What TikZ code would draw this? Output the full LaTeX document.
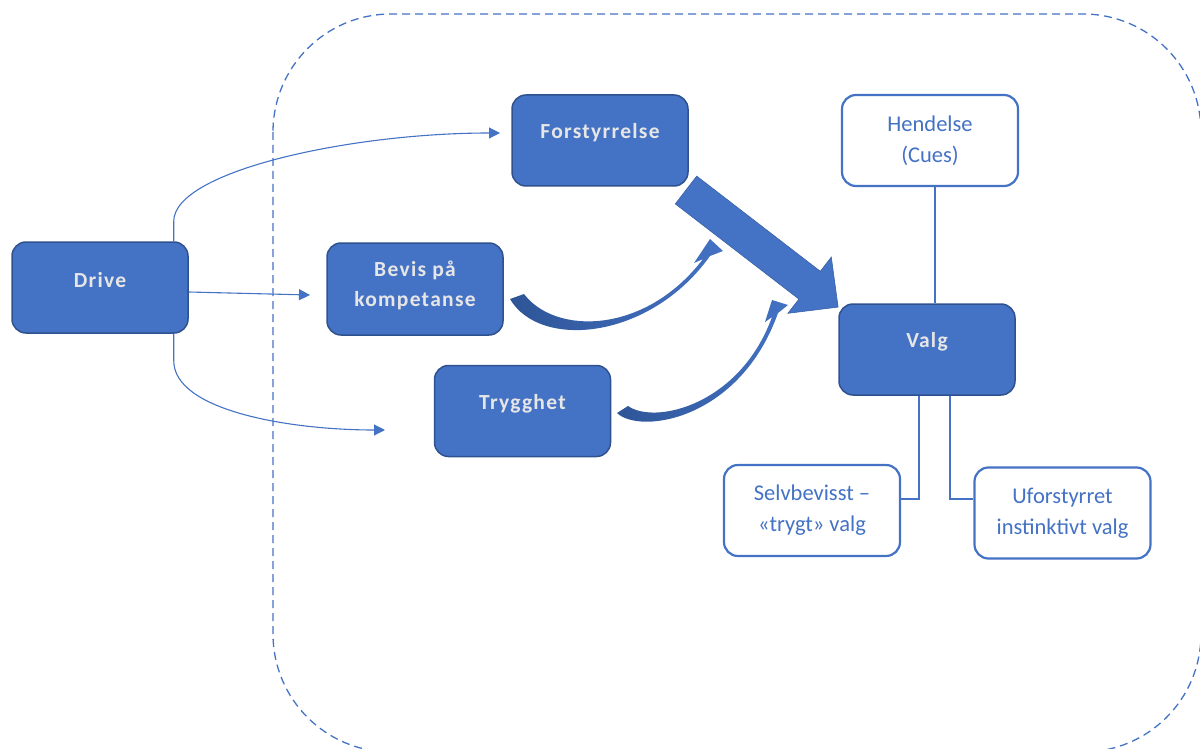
\documentclass[tikz,border=0pt]{standalone}
\usepackage{fontspec}
\setmainfont{Carlito}
\newfontfamily\boxfont[LetterSpace=6]{Carlito}
\usetikzlibrary{arrows.meta,calc}
\definecolor{boxblue}{HTML}{4472C4}
\definecolor{boxedge}{HTML}{2F528F}
\definecolor{txtgray}{HTML}{E7E6E6}
\definecolor{darkblue}{HTML}{2E5597}
\tikzset{
  fillbox/.style={draw=boxedge, fill=boxblue, line width=1.5pt, rounded corners=14pt,
    minimum width=176pt, minimum height=91pt, inner sep=0pt},
  filltext/.style={text=txtgray, align=center, inner sep=0pt,
    font=\boxfont\bfseries\fontsize{21.5pt}{30pt}\selectfont},
  whitebox/.style={draw=boxblue, fill=white, line width=2.2pt, rounded corners=14pt,
    minimum width=176pt, minimum height=91pt, inner sep=0pt, align=center, text=boxblue,
    font=\fontsize{22.5pt}{31pt}\selectfont},
  thinarrow/.style={draw=boxblue, line width=1.1pt, -{Triangle[length=11pt,width=11pt]}},
  treeline/.style={draw=boxblue, line width=2.2pt},
  border/.style={draw=boxblue, line width=1.3pt, dash pattern=on 8pt off 5pt, rounded corners=118pt},
  curvedarrow/.style={left color=darkblue, right color=boxblue, draw=none},
  blockarrow/.style={fill=boxblue, draw=boxblue!85!black, line width=0.6pt},
}
\begin{document}
\begin{tikzpicture}[x=1pt,y=-1pt]
\useasboundingbox (0,0) rectangle (1200,749);
\clip (0,0) rectangle (1200,749);

% dashed region
\draw[border] (273,14) rectangle (1201,752);

% boxes
\node[fillbox] (drive) at (100,287.5) {};
\node[filltext] (drive-t) at (100,280) {Drive};
\node[fillbox] (forst) at (600,140.5) {};
\node[filltext] (forst-t) at (600,133) {Forstyrrelse};
\node[fillbox, minimum height=92pt] (bevis) at (415,289) {};
\node[filltext] (bevis-t) at (415,285) {Bevis på\\kompetanse};
\node[fillbox] (trygg) at (522.5,411) {};
\node[filltext] (trygg-t) at (522.5,404) {Trygghet};
\node[fillbox] (valg) at (927,349.5) {};
\node[filltext] (valg-t) at (927,342) {Valg};

\node[whitebox] (hend) at (930,140.5) {Hendelse\\(Cues)};
\node[whitebox] (selv) at (812,510.5) {Selvbevisst –\\«trygt» valg};
\node[whitebox] (ufor) at (1062.5,513) {Uforstyrret\\instinktivt valg};

% free ends of the Drive arrows
\coordinate (endF) at (500,133);
\coordinate (endB) at (310,295);
\coordinate (endT) at (385,430);

% arrows from Drive
\draw[thinarrow] ([xshift=-15pt]drive.north east) -- ++(0,-20)
  .. controls +(0,-50) and +(-150,0) .. (endF);
\draw[thinarrow] ([yshift=-4.5pt]drive.east) -- (endB);
\draw[thinarrow] ([xshift=-15pt]drive.south east) -- ++(0,27)
  .. controls +(0,50) and +(-95,0) .. (endT);

% tree connectors
\draw[treeline] ([xshift=5pt]hend.south) -- ([xshift=8pt]valg.north);
\draw[treeline] ([xshift=-8pt]valg.south) |- ([yshift=11.5pt]selv.east);
\draw[treeline] ([xshift=23pt]valg.south) |- ([yshift=14pt]ufor.west);

% big block arrow from Forstyrrelse to Valg
\filldraw[blockarrow] (675.3,203.9) -- (798.9,299.1) -- (787.9,313.3) -- (838.1,307.1)
  -- (831.3,257.1) -- (820.3,271.3) -- (696.7,176.1) -- cycle;

% curved arrows
\shade[curvedarrow] (510,299) .. controls (540,350) and (650,340) .. (710,256)
  -- (723,251) -- (710,239) -- (694,263) -- (703,259)
  .. controls (645,335) and (555,335) .. (524,294) -- cycle;
\shade[curvedarrow] (617,413) .. controls (640,435) and (740,420) .. (778,313)
  -- (788,305) -- (772,300) -- (765,322) -- (772,317)
  .. controls (740,405) and (655,425) .. (628,406) -- cycle;
\end{tikzpicture}
\end{document}
